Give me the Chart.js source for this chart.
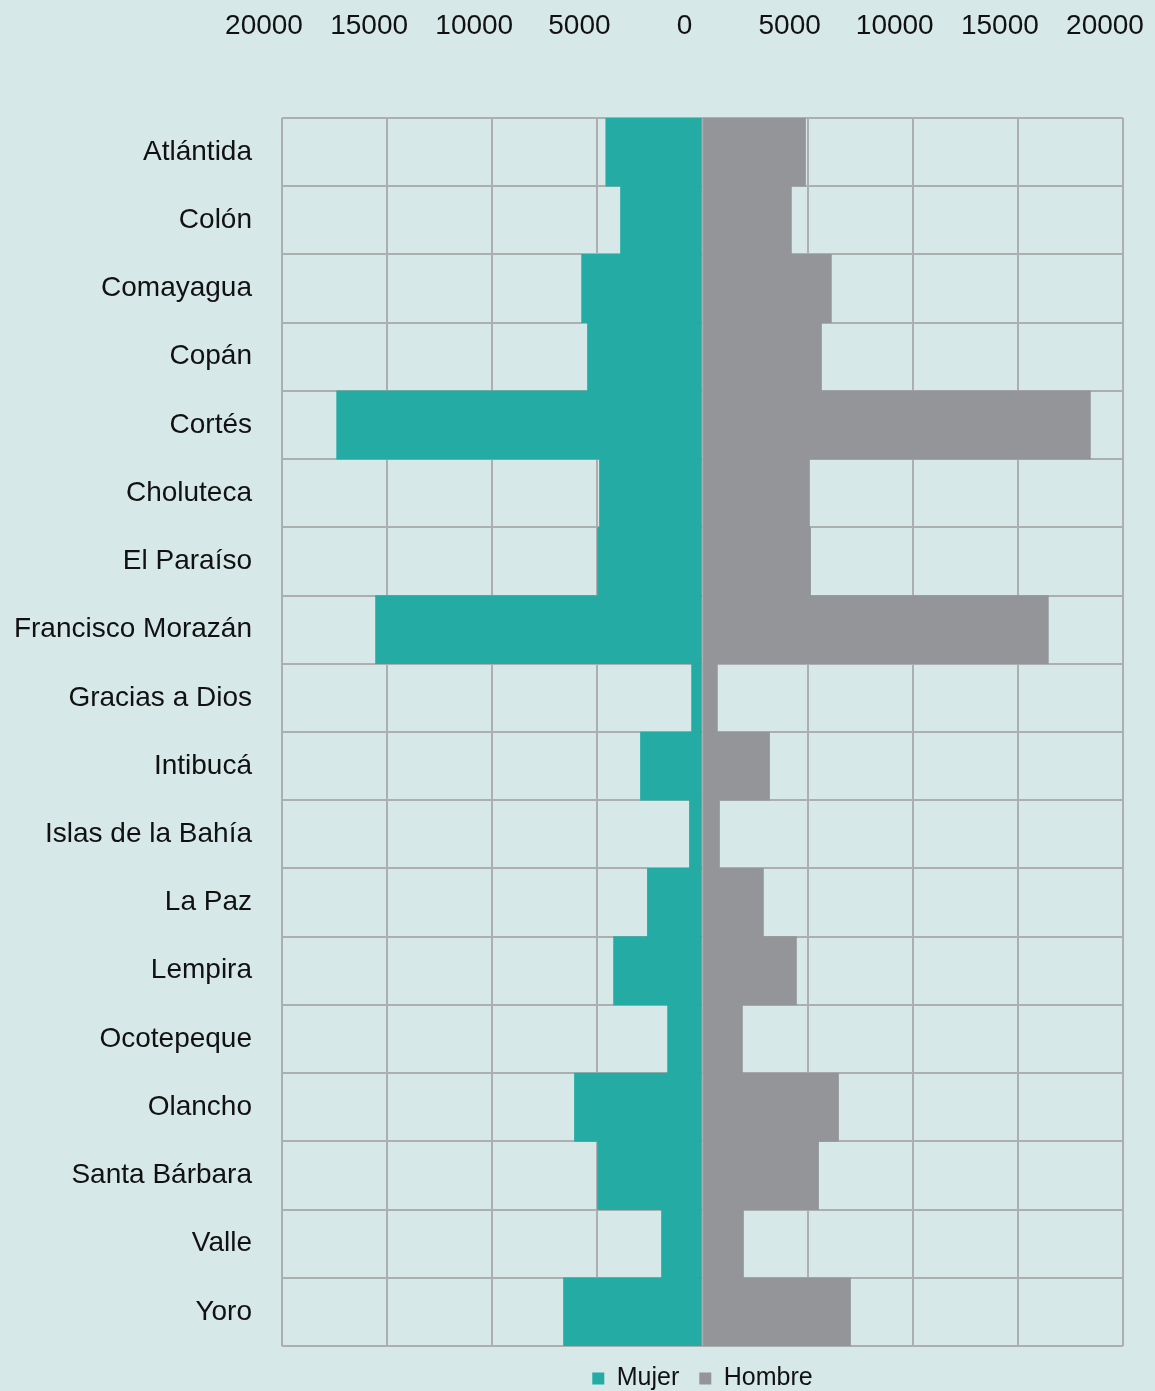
<!DOCTYPE html>
<html>
<head>
<meta charset="utf-8">
<script src="https://cdn.jsdelivr.net/npm/chart.js@4"></script>
<style>
  html, body { margin: 0; padding: 0; background: #d6e8e8; overflow: hidden; }
  #wrap { width: 1155px; height: 1401px; }
</style>
</head>
<body>
<div id="wrap"><canvas id="pyramid" width="1155" height="1401"></canvas></div>
<script>
// departamentos
const departamentos = ['Atlántida', 'Colón', 'Comayagua', 'Copán', 'Cortés', 'Choluteca',
  'El Paraíso', 'Francisco Morazán', 'Gracias a Dios', 'Intibucá', 'Islas de la Bahía',
  'La Paz', 'Lempira', 'Ocotepeque', 'Olancho', 'Santa Bárbara', 'Valle', 'Yoro'];

const mujer = [4600, 3900, 5750, 5470, 17400, 4900, 4990, 15550, 520, 2950, 620,
  2620, 4230, 1660, 6090, 4990, 1950, 6610];
const hombre = [4900, 4230, 6130, 5660, 18450, 5090, 5140, 16450, 710, 3190, 810,
  2900, 4470, 1900, 6470, 5520, 1950, 7040];

const escalaMin = -20000;
const escalaMax = 20000;
const paso = 5000;

const fuente = '"Liberation Sans", Arial, sans-serif';
const gridColor = '#adaeb0';

const ctx = document.getElementById('pyramid').getContext('2d');
new Chart(ctx, {
  type: 'bar',
  data: {
    labels: departamentos,
    datasets: [
      {
        label: 'Mujer',
        data: mujer.map(v => -v),
        backgroundColor: '#23aba4',
        borderWidth: 0
      },
      {
        label: 'Hombre',
        data: hombre,
        backgroundColor: '#949599',
        borderWidth: 0
      }
    ]
  },
  options: {
    indexAxis: 'y',
    responsive: false,
    animation: false,
    barPercentage: 1,
    categoryPercentage: 1,
    layout: {
      padding: { top: 10, left: 0, right: 32, bottom: 0 }
    },
    scales: {
      x: {
        position: 'top',
        stacked: true,
        min: escalaMin,
        max: escalaMax,
        // eje superior: alto fijo para que el area empiece en y=118
        afterFit: (s) => { s.paddingLeft = 0; s.paddingRight = 0; s.height = 108; },
        grid: { color: gridColor, lineWidth: 2, drawTicks: false },
        border: { display: false },
        ticks: {
          stepSize: paso,
          padding: 75,
          labelOffset: -18,
          color: '#111',
          font: { family: fuente, size: 28 },
          callback: v => Math.abs(v)
        }
      },
      y: {
        stacked: true,
        afterFit: (s) => { s.width = 282; },
        grid: { color: gridColor, lineWidth: 2, drawTicks: false },
        border: { display: false },
        ticks: {
          padding: 30,
          color: '#111',
          font: { family: fuente, size: 28 }
        }
      }
    },
    plugins: {
      legend: {
        position: 'bottom',
        fullSize: false,
        labels: {
          boxWidth: 12,
          boxHeight: 12,
          padding: 20,
          color: '#111',
          font: { family: fuente, size: 25 }
        }
      },
      tooltip: { enabled: false }
    }
  }
});
</script>
</body>
</html>
